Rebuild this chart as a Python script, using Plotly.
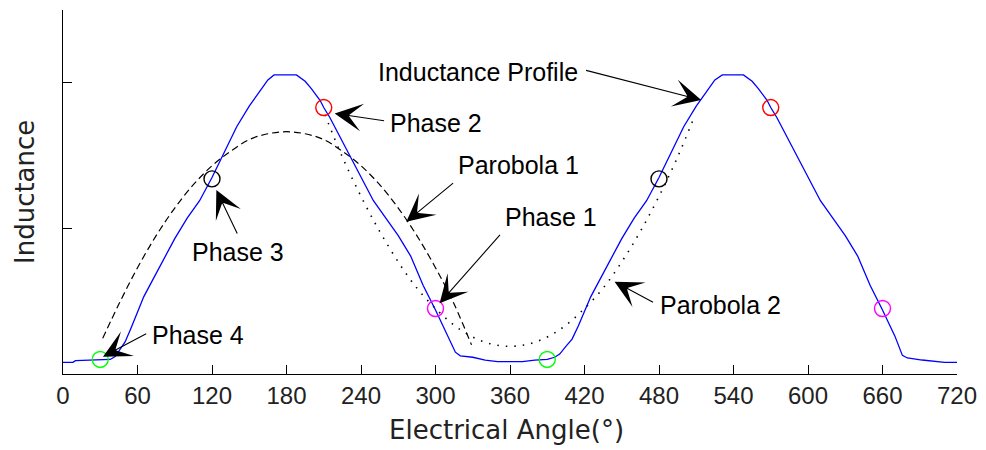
import plotly.graph_objects as go

# ---------------- data ----------------
# Inductance profile (blue), electrical angle in degrees
profile_angle = [0, 8, 10, 25, 38, 42, 46, 50, 55, 60, 65, 70, 80, 90, 100, 110, 120,
                 130, 140, 150, 160, 165, 170, 188, 195, 200, 207, 210, 215, 220, 230,
                 240, 250, 260, 270, 280, 290, 300, 306, 310, 316, 320, 330, 340, 350,
                 360, 370, 380, 390, 396, 400, 405, 410, 415, 420, 425, 430, 440, 450,
                 460, 470, 480, 490, 500, 510, 520, 525, 531, 548, 555, 560, 567, 570,
                 575, 580, 590, 600, 610, 620, 630, 640, 650, 660, 666, 670, 676, 680,
                 692, 700, 710, 720]
profile_value = [0.080, 0.080, 0.092, 0.095, 0.100, 0.12, 0.17, 0.22, 0.32, 0.43, 0.53,
                 0.61, 0.77, 0.93, 1.07, 1.19, 1.35, 1.53, 1.70, 1.84, 1.96, 2.02, 2.054,
                 2.054, 2.01, 1.96, 1.88, 1.83, 1.76, 1.68, 1.52, 1.35, 1.19, 1.07, 0.95,
                 0.81, 0.61, 0.44, 0.33, 0.26, 0.15, 0.125, 0.115, 0.095, 0.085, 0.085,
                 0.085, 0.095, 0.100, 0.115, 0.137, 0.19, 0.24, 0.33, 0.43, 0.53, 0.61,
                 0.77, 0.93, 1.07, 1.19, 1.35, 1.53, 1.70, 1.84, 1.96, 2.02, 2.054, 2.054,
                 2.01, 1.96, 1.88, 1.83, 1.76, 1.68, 1.52, 1.35, 1.19, 1.07, 0.95, 0.81,
                 0.61, 0.44, 0.33, 0.26, 0.128, 0.11, 0.096, 0.09, 0.080, 0.080]

# Parabola 1 (dashed)
para1_angle = [32, 45, 60, 75, 90, 105, 120, 135, 150, 165, 180, 195, 210, 225, 240,
               255, 270, 285, 300, 315, 329]
para1_value = [0.245, 0.48, 0.73, 0.95, 1.14, 1.30, 1.43, 1.53, 1.61, 1.65, 1.664, 1.65,
               1.61, 1.53, 1.43, 1.30, 1.14, 0.95, 0.73, 0.48, 0.20]

# Parabola 2 (dotted)
para2_angle = [211, 225, 240, 255, 270, 285, 300, 315, 330, 345, 360, 375, 390, 405, 420,
               435, 450, 465, 480, 495, 509]
para2_value = [1.78, 1.49, 1.22, 0.98, 0.77, 0.59, 0.45, 0.335, 0.254, 0.206, 0.19, 0.206,
               0.254, 0.335, 0.45, 0.59, 0.77, 0.98, 1.22, 1.49, 1.78]

# Phase markers
phase4_angle = [30, 390]
phase4_value = [0.10, 0.10]
phase3_angle = [120, 480]
phase3_value = [1.34, 1.34]
phase2_angle = [210, 570]
phase2_value = [1.83, 1.83]
phase1_angle = [300, 660]
phase1_value = [0.45, 0.45]

x_ticks = [0, 60, 120, 180, 240, 300, 360, 420, 480, 540, 600, 660, 720]
y_ticks = [1, 2]

# ---------------- figure ----------------
fig = go.Figure()
fig.add_trace(go.Scatter(x=para1_angle, y=para1_value, mode="lines", line_shape="spline",
                         line=dict(color="black", width=1.2, dash="7px,4px"), hoverinfo="skip"))
fig.add_trace(go.Scatter(x=para2_angle, y=para2_value, mode="lines", line_shape="spline",
                         line=dict(color="black", width=1.6, dash="1.5px,7px"), hoverinfo="skip"))
fig.add_trace(go.Scatter(x=profile_angle, y=profile_value, mode="lines",
                         line=dict(color="#0000ff", width=1.3), hoverinfo="skip"))
for xs, ys, col in [(phase4_angle, phase4_value, "#00ff00"),
                    (phase3_angle, phase3_value, "black"),
                    (phase2_angle, phase2_value, "#ff0000"),
                    (phase1_angle, phase1_value, "#ff00ff")]:
    fig.add_trace(go.Scatter(x=xs, y=ys, mode="markers",
                             marker=dict(symbol="circle-open", size=16, color=col,
                                         line=dict(color=col, width=1.4)),
                             hoverinfo="skip"))

ann_font = dict(family="Liberation Sans, Arial, sans-serif", size=25, color="black")

# label text: (text, x_left, y_center)
labels = [("Inductance Profile", 252.4, 2.076),
          ("Phase 2", 261.4, 1.724),
          ("Parobola 1", 316.8, 1.435),
          ("Phase 1", 354.1, 1.080),
          ("Parobola 2", 478.9, 0.474),
          ("Phase 3", 102.0, 0.840),
          ("Phase 4", 69.8, 0.268)]
# arrows: (tail_x, tail_y, head_x, head_y)
arrows = [(420.1, 2.088, 514.0, 1.882),
          (259.8, 1.738, 218.8, 1.790),
          (315.4, 1.319, 276.5, 1.046),
          (353.0, 0.966, 303.3, 0.486),
          (476.4, 0.488, 444.2, 0.634),
          (140.9, 0.955, 123.5, 1.264),
          (68.2, 0.282, 32.2, 0.119)]

annotations = []
for t, xl, yc in labels:
    annotations.append(dict(text=t, x=xl, y=yc, xref="x", yref="y", xanchor="left",
                            yanchor="middle", showarrow=False, font=ann_font))
for tx, ty, hx, hy in arrows:
    annotations.append(dict(text="", x=hx, y=hy, ax=tx, ay=ty, xref="x", yref="y",
                            axref="x", ayref="y", showarrow=True, arrowhead=3,
                            arrowsize=4.2, arrowwidth=1.1, arrowcolor="black", standoff=0))

title_font = dict(family="DejaVu Sans, sans-serif", size=26, color="#222222")
annotations.append(dict(text="Electrical Angle(°)", xref="paper", yref="paper", x=0.5, y=0,
                        xshift=-4, yshift=-56, xanchor="center", yanchor="middle",
                        showarrow=False, font=title_font))
annotations.append(dict(text="Inductance", xref="paper", yref="paper", x=0, y=0.5,
                        xshift=-38, xanchor="center", yanchor="middle", textangle=-90,
                        showarrow=False, font=title_font))

fig.update_layout(
    width=986, height=450,
    margin=dict(l=63, r=29, t=10, b=76),
    paper_bgcolor="white", plot_bgcolor="white",
    showlegend=False,
    annotations=annotations,
)
fig.update_xaxes(range=[0, 720], tickvals=x_ticks, ticktext=[str(v) for v in x_ticks],
                 ticks="inside", ticklen=9, tickcolor="black", tickwidth=1.2,
                 showline=True, linecolor="black", linewidth=1.2, mirror=False,
                 showgrid=False, zeroline=False,
                 tickfont=dict(family="Liberation Sans, Arial, sans-serif", size=24,
                               color="#222222"))
fig.update_yaxes(range=[0, 2.5], tickvals=y_ticks, showticklabels=False,
                 ticks="inside", ticklen=9, tickcolor="black", tickwidth=1.2,
                 showline=True, linecolor="black", linewidth=1.2, mirror=False,
                 showgrid=False, zeroline=False)

fig.write_html("out.html")
